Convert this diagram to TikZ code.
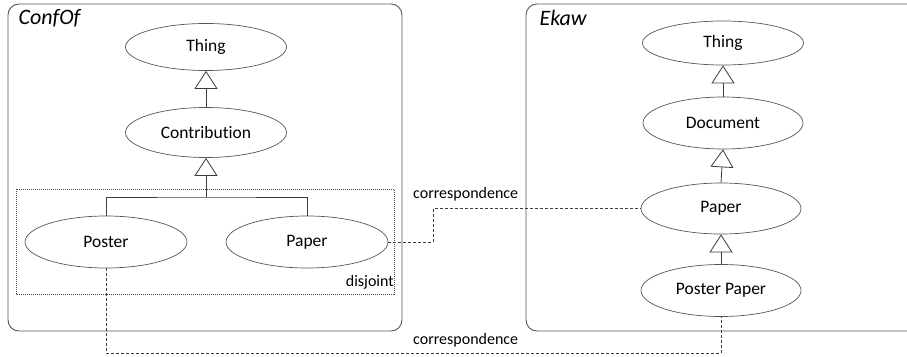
\documentclass[tikz,border=0pt]{standalone}
\usepackage{fontspec}
\setmainfont[Ligatures={NoCommon,NoRare,NoContextual}]{Carlito}
\usetikzlibrary{arrows.meta,shapes.geometric}

\definecolor{edgegray}{HTML}{3C3C3C}
\definecolor{shapegray}{HTML}{555555}

\tikzset{
  concept/.style={draw=shapegray, line width=0.7pt, ellipse, minimum width=#1, minimum height=50pt,
                  inner sep=0pt, font=\fontsize{17.5}{20}\selectfont},
  concept/.default=161pt,
  onto/.style={draw=shapegray, line width=0.9pt, rounded corners=11pt},
  ontolabel/.style={anchor=west, font=\fontsize{22}{25}\selectfont\itshape},
  isa/.style={draw=edgegray, line width=0.8pt, -{Triangle[open, width=23pt, length=18pt]}},
  plainline/.style={draw=edgegray, line width=0.8pt},
  corr/.style={draw=edgegray, line width=0.8pt, dash pattern=on 3pt off 2pt},
  grouping/.style={draw=black!70, line width=0.6pt, dash pattern=on 1pt off 1pt},
  smalltext/.style={font=\fontsize{16}{19}\selectfont, inner sep=0pt}
}

\begin{document}
\begin{tikzpicture}[x=1pt, y=-1pt]
  \useasboundingbox (0,0) rectangle (907,356);
  \begin{scope}
    \clip (0,0) rectangle (907,356);

    % ontology frames
    \draw[onto] (8,4) rectangle (402,331);
    \draw[onto] (526,4) rectangle (925,331);
  \end{scope}
  \node[ontolabel] (confof) at (15,18) {ConfOf};
  \node[ontolabel] (ekaw) at (536,18) {Ekaw};

  % ConfOf classes
  \node[concept, minimum height=47pt] (cThing) at (206,47) {Thing};
  \node[concept] (cContr) at (206,132.5) {Contribution};
  \node[concept, minimum height=52pt, minimum width=162pt] (cPoster) at (106,242) {Poster};
  \node[concept, minimum height=52pt, minimum width=162pt] (cPaper) at (307,242) {Paper};

  % disjointness group
  \draw[grouping] (16,189) rectangle (394,294);
  \node[smalltext, anchor=south east] (disj) at (394,289) {disjoint};

  \draw[isa] (cContr.north) -- (cThing.south);
  \coordinate (cFork) at (206,197);
  \draw[isa] (cFork) -- (cContr.south);
  \draw[plainline] (cPoster.north) |- (cFork) -| (cPaper.north);

  % Ekaw classes
  \node[concept, minimum height=44pt] (eThing) at (723,43) {Thing};
  \node[concept, minimum height=52pt, minimum width=160pt] (eDoc) at (723,123) {Document};
  \node[concept, minimum height=51pt, minimum width=160pt] (ePaper) at (721,208.5) {Paper};
  \node[concept, minimum height=52pt, minimum width=160pt] (ePosterPaper) at (721,290.5) {Poster Paper};

  \draw[isa] (eDoc.north) -- (eThing.south);
  \draw[isa] (ePaper.north) -- (eDoc.south);
  \draw[isa] (ePosterPaper.north) -- (ePaper.south);

  % correspondences between the two ontologies
  \coordinate (bendA) at (433,242);
  \coordinate (bendB) at (433,208.5);
  \draw[corr] (cPaper.east) -- (bendA) -- (bendB) -- (ePaper.west);
  \node[smalltext, anchor=west] (corrTop) at (413,194) {correspondence};

  \coordinate (lowA) at (106,353);
  \coordinate (lowB) at (721,353);
  \draw[corr] (cPoster.south) -- (lowA) -- (lowB) -- (ePosterPaper.south);
  \node[smalltext, anchor=west] (corrLow) at (413,340) {correspondence};
\end{tikzpicture}
\end{document}
